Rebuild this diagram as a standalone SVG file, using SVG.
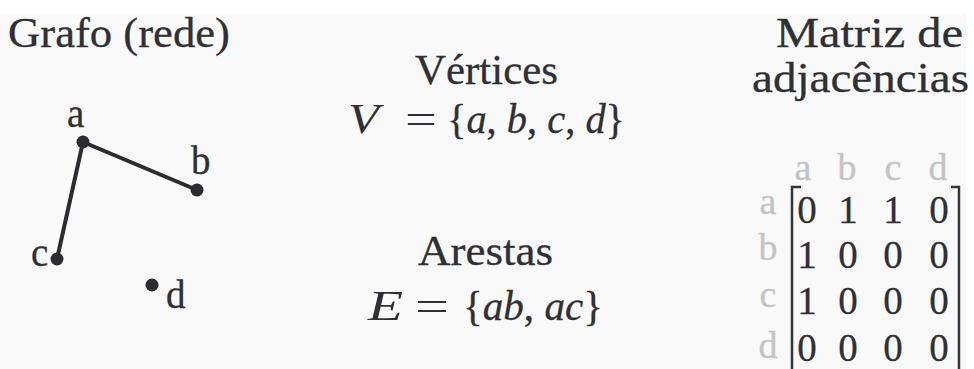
<svg xmlns="http://www.w3.org/2000/svg" width="974" height="369" viewBox="0 0 974 369">
<style>
text{font-family:"Liberation Serif","Times New Roman",serif;fill:#2e3034;stroke:#2e3034;stroke-width:0.3}
.t{font-size:43px}
.m{font-size:43px}
.i{font-style:italic}
.ns{stroke:none}
.lbl{font-size:39px}
.num{font-size:39px;text-anchor:middle}
.hd{font-size:38px;fill:#c4c4c4;stroke:#c4c4c4}
.hc{text-anchor:middle}
.edge{stroke:#2a2c30;stroke-width:4;stroke-linecap:round}
.dot{fill:#2a2c30}
.br{fill:none;stroke:#33353a;stroke-width:2.5}
</style>
<rect x="0" y="0" width="974" height="369" fill="#ffffff"/>
<rect x="0" y="13" width="966" height="356" fill="#f9f9f9"/>

<g id="title-grafo"><text class="t" x="8" y="47" textLength="222" lengthAdjust="spacingAndGlyphs">Grafo (rede)</text></g>

<g id="edges">
<line class="edge" x1="83" y1="142" x2="197" y2="190"/>
<line class="edge" x1="83" y1="142" x2="57" y2="259"/>
</g>

<g id="node-a"><circle class="dot" cx="83" cy="142" r="6.5"/><text class="lbl" x="67" y="127">a</text></g>
<g id="node-b"><circle class="dot" cx="197" cy="190" r="6.5"/><text class="lbl" x="191" y="174">b</text></g>
<g id="node-c"><circle class="dot" cx="57" cy="259" r="6.5"/><text class="lbl" x="31" y="266">c</text></g>
<g id="node-d"><circle class="dot" cx="152" cy="285" r="6.5"/><text class="lbl" x="166" y="308">d</text></g>

<g id="vertices">
<text class="t" x="415" y="84" textLength="143" lengthAdjust="spacingAndGlyphs">Vértices</text>
<text class="m i ns" x="348" y="133" textLength="31" lengthAdjust="spacingAndGlyphs">V</text>
<text class="m ns" x="405" y="133" textLength="32" lengthAdjust="spacingAndGlyphs">=</text>
<text class="m" x="447" y="133" textLength="178" lengthAdjust="spacingAndGlyphs">{<tspan class="i">a</tspan>, <tspan class="i">b</tspan>, <tspan class="i">c</tspan>, <tspan class="i">d</tspan>}</text>
</g>

<g id="arestas">
<text class="t" x="418" y="265" textLength="135" lengthAdjust="spacingAndGlyphs">Arestas</text>
<text class="m i ns" x="368" y="320" textLength="35" lengthAdjust="spacingAndGlyphs">E</text>
<text class="m ns" x="415" y="320" textLength="34" lengthAdjust="spacingAndGlyphs">=</text>
<text class="m" x="463" y="320" textLength="140" lengthAdjust="spacingAndGlyphs">{<tspan class="i">ab</tspan>, <tspan class="i">ac</tspan>}</text>
</g>

<g id="matriz">
<text class="t" x="776" y="47" textLength="187" lengthAdjust="spacingAndGlyphs">Matriz de</text>
<text class="t" x="752" y="92" textLength="217" lengthAdjust="spacingAndGlyphs">adjacências</text>
<g id="col-headers">
<text class="hd hc" x="803" y="180">a</text>
<text class="hd hc" x="847" y="180">b</text>
<text class="hd hc" x="893" y="180">c</text>
<text class="hd hc" x="938" y="180">d</text>
</g>
<g id="row-headers">
<text class="hd hc" x="768" y="214">a</text>
<text class="hd hc" x="768" y="260">b</text>
<text class="hd hc" x="768" y="307">c</text>
<text class="hd hc" x="768" y="358">d</text>
</g>
<path class="br" d="M801,187 H792 V369"/>
<path class="br" d="M951,187 H959 V369"/>
<g id="cells">
<text class="num" x="807" y="223">0</text><text class="num" x="848" y="223">1</text><text class="num" x="893" y="223">1</text><text class="num" x="939" y="223">0</text>
<text class="num" x="807" y="268">1</text><text class="num" x="848" y="268">0</text><text class="num" x="893" y="268">0</text><text class="num" x="939" y="268">0</text>
<text class="num" x="807" y="314">1</text><text class="num" x="848" y="314">0</text><text class="num" x="893" y="314">0</text><text class="num" x="939" y="314">0</text>
<text class="num" x="807" y="361">0</text><text class="num" x="848" y="361">0</text><text class="num" x="893" y="361">0</text><text class="num" x="939" y="361">0</text>
</g>
</g>
</svg>
